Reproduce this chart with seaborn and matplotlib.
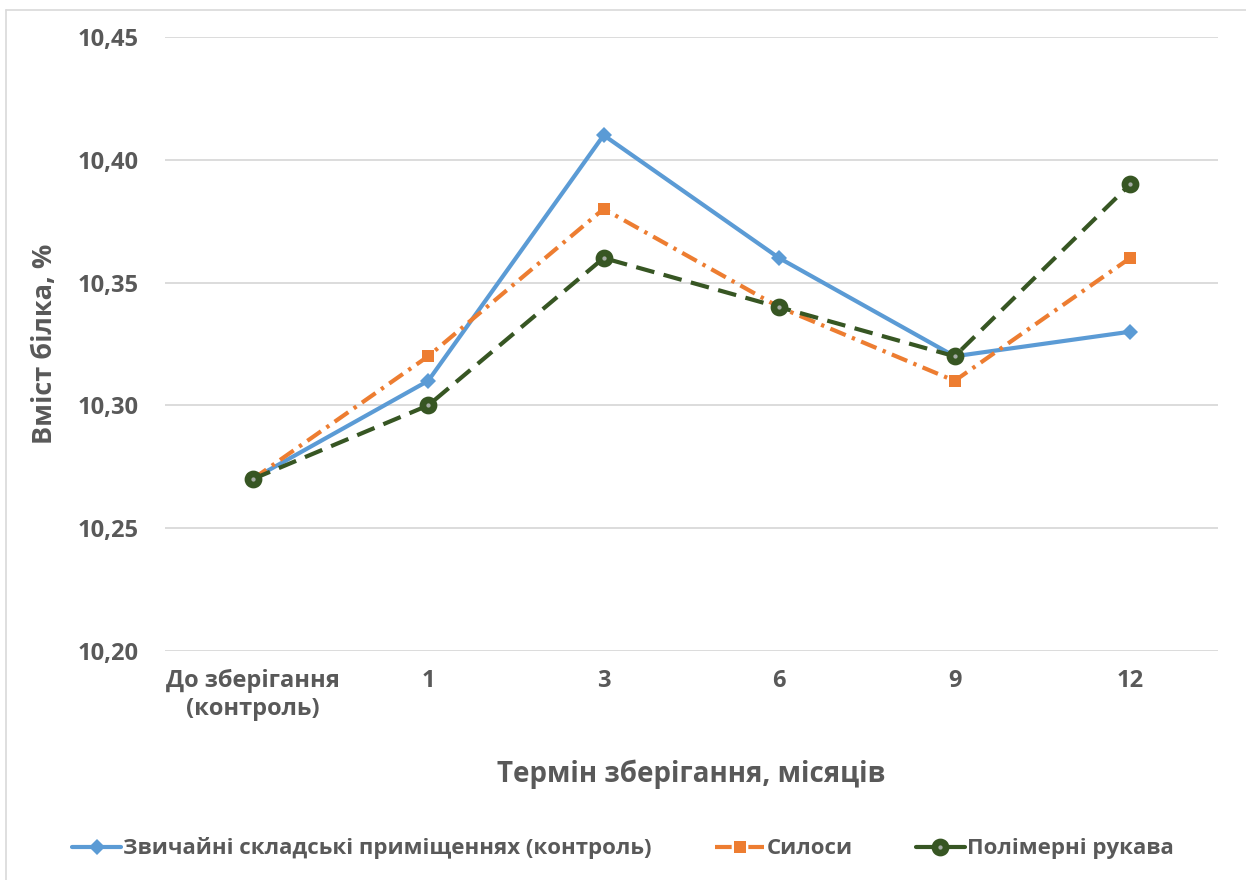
import matplotlib
matplotlib.use("Agg")
import matplotlib.pyplot as plt
from matplotlib.lines import Line2D
import seaborn as sns
import pandas as pd

# Storage periods and protein content for each storage method
categories = ["До зберігання\n(контроль)", "1", "3", "6", "9", "12"]
series_names = ["Звичайні складські приміщеннях (контроль)", "Силоси", "Полімерні рукава"]
warehouse = [10.27, 10.31, 10.41, 10.36, 10.32, 10.33]
silos = [10.27, 10.32, 10.38, 10.34, 10.31, 10.36]
polymer_sleeves = [10.27, 10.30, 10.36, 10.34, 10.32, 10.39]
y_ticks = [10.20, 10.25, 10.30, 10.35, 10.40, 10.45]

colors = {series_names[0]: "#5B9BD5", series_names[1]: "#ED7D31", series_names[2]: "#375623"}
markers = {series_names[0]: "D", series_names[1]: "s", series_names[2]: "o"}
dashes = {series_names[0]: "", series_names[1]: (4, 1.6, 0.8, 1.6), series_names[2]: (4.5, 2.3)}
LW = 3.0

rows = []
for name, vals in zip(series_names, [warehouse, silos, polymer_sleeves]):
    for i, v in enumerate(vals):
        rows.append({"pos": i, "value": v, "series": name})
df = pd.DataFrame(rows)

sns.set_theme(style="white")
plt.rcParams["font.family"] = ["Open Sans", "DejaVu Sans"]
text_color = "#595959"
center_color = "#a5aca5"

fig = plt.figure(figsize=(12.46, 8.8), dpi=100)
ax = fig.add_axes([0.1324, 0.2602, 0.845, 0.6978])

sns.lineplot(data=df, x="pos", y="value", hue="series", style="series",
             palette=colors, markers=markers, dashes=dashes,
             linewidth=LW, legend=False, ax=ax, zorder=3)


def style_marker(line, name):
    c = colors[name]
    if name == series_names[2]:
        line.set_markersize(8.0)
        line.set_markeredgewidth(4.8)
        line.set_markeredgecolor(c)
        line.set_markerfacecolor(center_color)
    else:
        line.set_markersize(8.5)
        line.set_markeredgewidth(0)
        line.set_markerfacecolor(c)


for line, name in zip(ax.get_lines(), series_names):
    style_marker(line, name)

ax.set_xlim(-0.5, len(categories) - 0.5)
ax.set_ylim(y_ticks[0], y_ticks[-1])
ax.set_yticks(y_ticks)
ax.set_yticklabels([f"{t:.2f}".replace(".", ",") for t in y_ticks])
ax.set_xticks(range(len(categories)))
ax.set_xticklabels(categories)
ax.tick_params(axis="both", length=0, labelsize=17, labelcolor=text_color)
ax.tick_params(axis="y", pad=19)
ax.tick_params(axis="x", pad=13)
for lbl in ax.get_xticklabels() + ax.get_yticklabels():
    lbl.set_fontweight("bold")

ax.grid(axis="y", color="#d9d9d9", linewidth=1.3)
ax.grid(axis="x", visible=False)
for s in ax.spines.values():
    s.set_visible(False)

ax.set_xlabel("Термін зберігання, місяців", fontsize=20, fontweight="bold",
              color=text_color, labelpad=28)
ax.set_ylabel("Вміст білка, %", fontsize=19.5, fontweight="bold",
              color=text_color, labelpad=14)

handles = []
for name in series_names:
    h = Line2D([], [], color=colors[name], lw=LW, marker=markers[name])
    if name == series_names[1]:
        h.set_linestyle((0, (4, 1.6, 0.8, 1.6)))
    style_marker(h, name)
    handles.append(h)

leg = fig.legend(handles, series_names, loc="center", bbox_to_anchor=(0.5, 0.036),
                 ncol=3, frameon=False, handlelength=2.2, handletextpad=0.1,
                 columnspacing=2.85, prop={"size": 16, "weight": "bold"})
for t in leg.get_texts():
    t.set_color(text_color)

# thin frame along the left and top edges
fig.add_artist(Line2D([0.0045, 0.0045], [0.0, 0.989], transform=fig.transFigure,
                      color="#d9d9d9", lw=1.2))
fig.add_artist(Line2D([0.0045, 1.0], [0.989, 0.989], transform=fig.transFigure,
                      color="#d9d9d9", lw=1.2))

fig.savefig("out.png", dpi=100, facecolor="white")
